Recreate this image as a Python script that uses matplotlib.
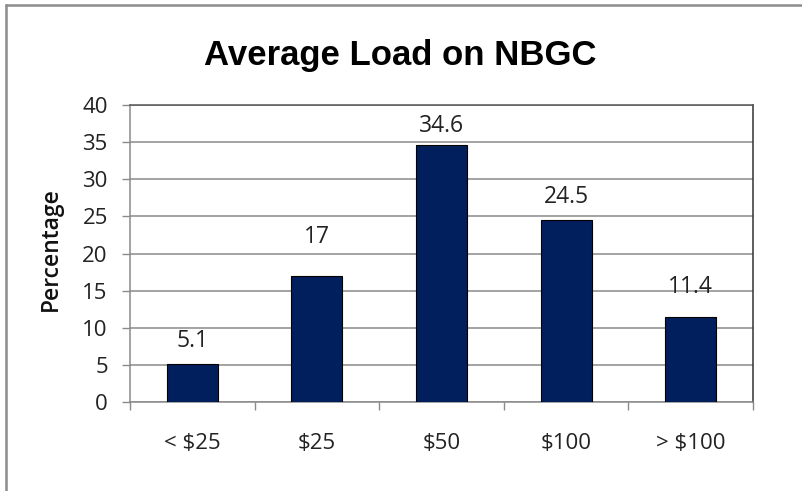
import matplotlib
matplotlib.use("Agg")
import matplotlib.pyplot as plt
from matplotlib.lines import Line2D
import numpy as np

# Chart data
categories = ["< $25", "$25", "$50", "$100", "> $100"]
percentages = [5.1, 17, 34.6, 24.5, 11.4]
y_ticks = [0, 5, 10, 15, 20, 25, 30, 35, 40]

# Styling
label_gap_px = [11, 27, 7, 11, 18]   # space between bar top and its value label
bar_color = "#001f5c"
grid_color = "#8a8a8a"
text_font = ["Open Sans", "DejaVu Sans"]
title_font = ["Liberation Sans", "DejaVu Sans"]

W, H = 803, 491
fig = plt.figure(figsize=(W / 100, H / 100), dpi=100)
fig.patch.set_facecolor("white")

# Outer frame (top and left edges)
fig.add_artist(Line2D([5 / W, 1.0], [1 - 5 / H, 1 - 5 / H], transform=fig.transFigure,
                      color="#8c8c8c", lw=1.8, solid_capstyle="butt"))
fig.add_artist(Line2D([6 / W, 6 / W], [1 - 4 / H, 0.0], transform=fig.transFigure,
                      color="#8c8c8c", lw=1.8, solid_capstyle="butt"))

left, right, top, bottom = 130, 753, 105, 402
ax = fig.add_axes([left / W, 1 - bottom / H, (right - left) / W, (bottom - top) / H])

x = np.arange(len(categories))
bars = ax.bar(x, percentages, width=0.41, color=bar_color, edgecolor="black",
              linewidth=0.8, zorder=3)

ax.set_xlim(-0.5, len(categories) - 0.5)
ax.set_ylim(y_ticks[0], y_ticks[-1])
ax.set_yticks(y_ticks)
ax.set_yticklabels([str(t) for t in y_ticks], fontfamily=text_font, fontsize=16, color="#222222")

# Category labels centred under bars, tick marks on category boundaries
ax.set_xticks(x)
ax.set_xticklabels(categories, fontfamily=text_font, fontsize=16, color="#222222")
ax.tick_params(axis="x", which="major", length=0, pad=22)
ax.set_xticks(np.arange(len(categories) + 1) - 0.5, minor=True)
ax.tick_params(axis="x", which="minor", length=6, width=1, color=grid_color, direction="out")
ax.tick_params(axis="y", length=6, width=1, color=grid_color, direction="out", pad=10)

ax.yaxis.grid(True, color=grid_color, linewidth=1.1, zorder=0)
ax.set_axisbelow(True)

ax.spines["left"].set_color(grid_color)
ax.spines["bottom"].set_color(grid_color)
ax.spines["top"].set_color("#555555")
ax.spines["right"].set_color("#333333")
for s in ax.spines.values():
    s.set_linewidth(1.1)

# Value labels above each bar
for xi, val, gap in zip(x, percentages, label_gap_px):
    ax.annotate(f"{val:g}", xy=(xi, val), xytext=(0, gap * 0.72), textcoords="offset points",
                ha="center", va="bottom", fontfamily=text_font, fontsize=16.5, color="#222222")

ax.set_ylabel("Percentage", fontfamily=text_font, fontsize=16.5, fontweight="semibold",
              color="#111111")
ax.yaxis.set_label_coords(-(left - 63) / (right - left), (bottom - 249) / (bottom - top))

fig.text(400 / W, 1 - 56 / H, "Average Load on NBGC", ha="center", va="center",
         fontfamily=title_font, fontsize=25, fontweight="bold", color="black")

fig.savefig("out.png", dpi=100, facecolor="white")
